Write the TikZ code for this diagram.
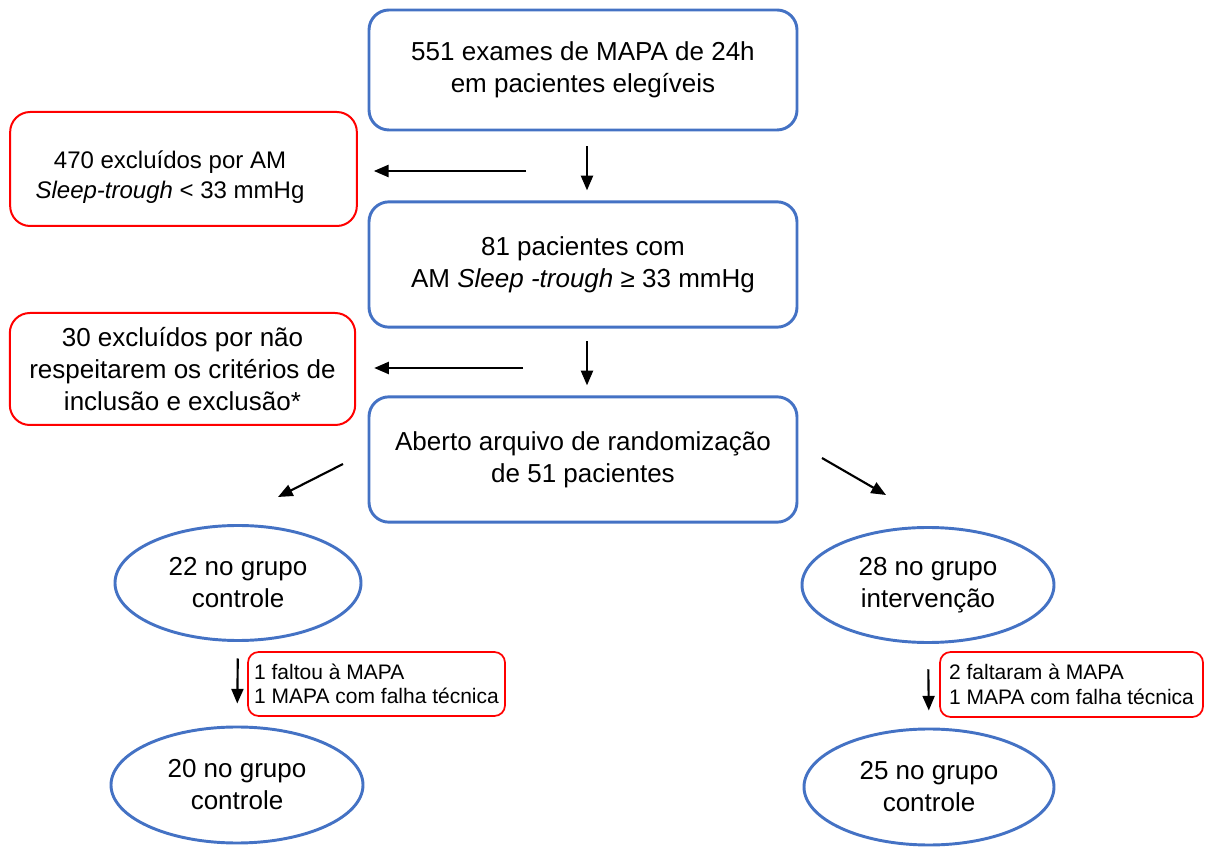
\documentclass[tikz,border=0pt]{standalone}
\usepackage{fontspec}
\setmainfont{Liberation Sans}
\usetikzlibrary{arrows.meta,shapes.geometric}

\definecolor{boxblue}{RGB}{68,114,196}
\definecolor{boxred}{RGB}{255,0,0}

\tikzset{
  bluebox/.style={draw=boxblue, line width=2.2pt, rounded corners=15pt, align=center,
    inner sep=0pt, minimum width=321pt, minimum height=92pt,
    font=\fontsize{19.5}{24}\selectfont},
  redbox/.style={draw=boxred, line width=1.5pt, rounded corners=15pt, align=center,
    inner sep=0pt, font=\fontsize{19.5}{24}\selectfont},
  grpellipse/.style={ellipse, draw=boxblue, line width=2.2pt, align=center, inner sep=0pt,
    font=\fontsize{19.5}{24}\selectfont},
  notebox/.style={draw=boxred, line width=1.3pt, rounded corners=8pt, align=left,
    inner sep=0pt, font=\fontsize{15.75}{18.5}\selectfont},
  arr/.style={line width=1.6pt, -{Triangle[length=11pt,width=9pt]}}
}

\begin{document}
\begin{tikzpicture}[x=0.75pt,y=0.75pt,yscale=-1,xscale=1]
    \useasboundingbox (0,0) rectangle (1208,848);

    % Text Node
    \node [bluebox, minimum height=90pt] (exams) at (583,70) {551 exames de MAPA de 24h\\em pacientes eleg\'iveis};
    % Text Node
    \node [bluebox, minimum height=94pt] (eligible) at (583,264.5) {81 pacientes com\\AM \textit{Sleep -trough} ≥ 33 mmHg};
    % Text Node
    \node [bluebox, minimum height=94pt] (random) at (583,459.5) {Aberto arquivo de randomização\\de 51 pacientes};
    % Text Node
    \node [redbox, minimum width=260pt, minimum height=85.5pt] (exclA) at (183.5,169) {};
    \node [align=center, inner sep=0pt, font=\fontsize{18}{23}\selectfont] (exclAtext) at (170,177) {470 excluídos por AM\\\textit{Sleep-trough} < 33 mmHg};
    % Text Node
    \node [redbox, minimum width=259pt, minimum height=84pt] (exclB) at (182.5,369) {30 excluídos por não\\respeitarem os critérios de\\inclusão e exclusão*};
    % Text Node
    \node [grpellipse, minimum width=184.5pt, minimum height=86.25pt] (ctrlA) at (238,583) {22 no grupo\\controle};
    % Text Node
    \node [grpellipse, minimum width=189pt, minimum height=86.25pt] (intvA) at (928,585) {28 no grupo\\intervenção};
    % Text Node
    \node [grpellipse, minimum width=189pt, minimum height=87pt] (ctrlB) at (237,785) {20 no grupo\\controle};
    % Text Node
    \node [grpellipse, minimum width=187.5pt, minimum height=87pt] (intvB) at (929,787) {25 no grupo\\controle};
    % Text Node
    \node [notebox, minimum width=192.75pt, minimum height=48pt] (lossA) at (376.5,684) {1 faltou à MAPA\\1 MAPA com falha técnica};
    % Text Node
    \node [notebox, minimum width=197.25pt, minimum height=48.75pt] (lossB) at (1071.5,684.5) {2 faltaram à MAPA\\1 MAPA com falha técnica};

    \coordinate (cutA) at (526,171);
    \coordinate (cutB) at (523,368);
    \coordinate (splitL) at (343,464);
    \coordinate (tipL) at (278,497);
    \coordinate (splitR) at (822,458);
    \coordinate (tipR) at (886,495);

    % Connection
    \draw [arr, shorten <=11pt, shorten >=7.5pt] ([xshift=3pt]exams.south) -- ([xshift=3pt]eligible.north);
    % Connection
    \draw [arr, shorten <=9.5pt, shorten >=7.5pt] ([xshift=3pt]eligible.south) -- ([xshift=3pt]random.north);
    % Connection
    \draw [arr, shorten >=12pt] (cutA) -- (cutA -| exclA.east);
    % Connection
    \draw [arr, shorten >=13.5pt] (cutB) -- (cutB -| exclB.east);
    % Connection
    \draw [arr] (splitL) -- (tipL);
    % Connection
    \draw [arr] (splitR) -- (tipR);
    % Connection
    \draw [arr, shorten <=12.4pt, shorten >=16.5pt] (ctrlA.south) -- (ctrlB.north);
    % Connection
    \draw [arr, shorten <=19pt, shorten >=12.75pt] (intvA.south) -- (intvB.north);

\end{tikzpicture}
\end{document}
